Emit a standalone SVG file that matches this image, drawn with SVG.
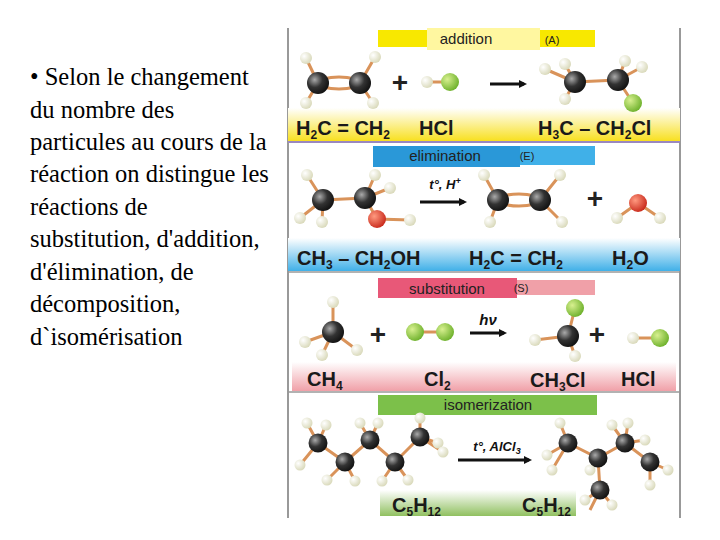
<svg xmlns="http://www.w3.org/2000/svg" width="720" height="540" viewBox="0 0 720 540">
<style>
.lt{font-family:"Liberation Serif","DejaVu Serif",serif;font-size:24.5px;fill:#000}
.lab{font-family:"Liberation Sans",sans-serif;font-size:15px;fill:#222;text-anchor:middle}
.f{font-family:"Liberation Sans",sans-serif;font-size:20px;font-weight:bold;fill:#1a1a1a}
.s{font-size:12px}
.b{stroke:#d9935a;stroke-width:3;fill:none}
.ar{stroke:#111;stroke-width:3}
.it{font-family:"Liberation Sans",sans-serif;font-size:13px;font-style:italic;font-weight:bold;fill:#111;text-anchor:middle}
.pl{font-family:"Liberation Sans",sans-serif;font-size:28px;font-weight:bold;fill:#222;text-anchor:middle}
</style>
<defs>
<radialGradient id="gc" cx="35%" cy="35%" r="70%"><stop offset="0" stop-color="#aaa"/><stop offset="0.5" stop-color="#333"/><stop offset="1" stop-color="#111"/></radialGradient>
<radialGradient id="gh" cx="35%" cy="35%" r="70%"><stop offset="0" stop-color="#fff"/><stop offset="1" stop-color="#d8d8b8"/></radialGradient>
<radialGradient id="gcl" cx="35%" cy="35%" r="70%"><stop offset="0" stop-color="#d8f090"/><stop offset="1" stop-color="#6cb02a"/></radialGradient>
<radialGradient id="go" cx="35%" cy="35%" r="70%"><stop offset="0" stop-color="#ff9a80"/><stop offset="1" stop-color="#c8281a"/></radialGradient>
<linearGradient id="by" x1="0" y1="0" x2="0" y2="1"><stop offset="0" stop-color="#fff"/><stop offset="1" stop-color="#f8e020"/></linearGradient>
<linearGradient id="bb" x1="0" y1="0" x2="0" y2="1"><stop offset="0" stop-color="#fff"/><stop offset="1" stop-color="#40b0e8"/></linearGradient>
<linearGradient id="bp" x1="0" y1="0" x2="0" y2="1"><stop offset="0" stop-color="#fff"/><stop offset="1" stop-color="#f0a0a8"/></linearGradient>
<linearGradient id="bg" x1="0" y1="0" x2="0" y2="1"><stop offset="0" stop-color="#fff"/><stop offset="1" stop-color="#90c060"/></linearGradient>
<marker id="ah" markerWidth="8" markerHeight="8" refX="5" refY="4" orient="auto" markerUnits="userSpaceOnUse"><path d="M0,0 L8,4 L0,8 Z" fill="#111"/></marker>
</defs>
<rect width="720" height="540" fill="#fff"/>
<g id="lefttext">
<text class="lt" x="30" y="85">•  Selon le changement</text>
<text class="lt" x="30" y="118">du nombre des</text>
<text class="lt" x="30" y="150">particules au cours de la</text>
<text class="lt" x="30" y="182">réaction on distingue les</text>
<text class="lt" x="30" y="215">réactions de</text>
<text class="lt" x="30" y="247">substitution, d'addition,</text>
<text class="lt" x="30" y="280">d'élimination, de</text>
<text class="lt" x="30" y="312">décomposition,</text>
<text class="lt" x="30" y="345">d`isomérisation</text>
</g>
<g id="panel">
<rect x="287" y="28" width="393" height="490" fill="#fff"/>
<line x1="288" y1="28" x2="288" y2="518" stroke="#999" stroke-width="2"/>
<line x1="680" y1="28" x2="680" y2="518" stroke="#999" stroke-width="2"/>
<rect x="288" y="108" width="392" height="33" fill="url(#by)"/>
<line x1="288" y1="142" x2="680" y2="142" stroke="#9a88c0" stroke-width="2"/>
<rect x="288" y="238" width="392" height="33" fill="url(#bb)"/>
<line x1="288" y1="272" x2="680" y2="272" stroke="#999" stroke-width="1.5"/>
<rect x="292" y="362" width="384" height="29" fill="url(#bp)"/>
<line x1="288" y1="392" x2="680" y2="392" stroke="#999" stroke-width="1.5"/>
<rect x="380" y="490" width="196" height="26" fill="url(#bg)"/>
</g>
<g id="addition">
<rect x="378" y="30" width="217" height="17" fill="#f8e800"/>
<rect x="427" y="28" width="113" height="22" fill="#fff7a0"/>
<text class="lab" x="466" y="44">addition</text>
<text class="lab" x="552" y="44" style="font-size:11px">(A)</text>
<g class="b"><ellipse cx="339" cy="83" rx="21" ry="6"/><path d="M318,83L306,58M318,83L306,103M360,83L375,57M360,83L373,103M427,82L450,82M575,82L618,80M575,82L565,64M575,82L545,69M575,82L565,99M618,80L625,61M618,80L642,67M618,80L633,103"/></g>
<g fill="url(#gh)"><circle cx="306" cy="58" r="6"/><circle cx="306" cy="103" r="6"/><circle cx="375" cy="57" r="6"/><circle cx="373" cy="103" r="6"/><circle cx="427" cy="82" r="6"/><circle cx="565" cy="64" r="6"/><circle cx="545" cy="69" r="6"/><circle cx="565" cy="99" r="6"/><circle cx="625" cy="61" r="6"/><circle cx="642" cy="67" r="6"/></g>
<g fill="url(#gc)"><circle cx="318" cy="83" r="11"/><circle cx="360" cy="83" r="11"/><circle cx="575" cy="82" r="11"/><circle cx="618" cy="80" r="11"/></g>
<g fill="url(#gcl)"><circle cx="450" cy="82" r="9"/><circle cx="633" cy="103" r="9"/></g>
<text class="pl" x="400" y="92">+</text>
<line class="ar" x1="490" y1="84" x2="524" y2="84" marker-end="url(#ah)"/>
<text class="f" x="296" y="135">H<tspan class="s" dy="4">2</tspan><tspan dy="-4">C = CH</tspan><tspan class="s" dy="4">2</tspan></text>
<text class="f" x="419" y="135">HCl</text>
<text class="f" x="538" y="135">H<tspan class="s" dy="4">3</tspan><tspan dy="-4">C – CH</tspan><tspan class="s" dy="4">2</tspan><tspan dy="-4">Cl</tspan></text>
</g>
<g id="elimination">
<rect x="373" y="146" width="222" height="19" fill="#40b0e8"/>
<rect x="373" y="146" width="147" height="21" fill="#2a98d8"/>
<text class="lab" x="445" y="161">elimination</text>
<text class="lab" x="527" y="160" style="font-size:11px">(E)</text>
<g class="b"><path d="M323,200L365,198M323,200L307,175M323,200L300,218M323,200L322,222M365,198L375,175M365,198L390,188M365,198L377,219L410,220M498,200L484,175M498,200L490,222M540,200L560,175M540,200L562,222M638,203L617,218M638,203L660,218"/><ellipse cx="519" cy="200" rx="21" ry="6"/></g>
<g fill="url(#gh)"><circle cx="307" cy="175" r="6"/><circle cx="300" cy="218" r="6"/><circle cx="322" cy="222" r="6"/><circle cx="375" cy="175" r="6"/><circle cx="390" cy="188" r="6"/><circle cx="410" cy="220" r="6"/><circle cx="484" cy="175" r="6"/><circle cx="560" cy="175" r="6"/><circle cx="490" cy="222" r="6"/><circle cx="562" cy="222" r="6"/><circle cx="617" cy="218" r="6"/><circle cx="660" cy="218" r="6"/></g>
<g fill="url(#gc)"><circle cx="323" cy="200" r="11"/><circle cx="365" cy="198" r="11"/><circle cx="498" cy="200" r="11"/><circle cx="540" cy="200" r="11"/></g>
<g fill="url(#go)"><circle cx="377" cy="219" r="9"/><circle cx="638" cy="203" r="9"/></g>
<text class="it" x="445" y="189">t°, H<tspan dy="-5" style="font-size:9px">+</tspan></text>
<line class="ar" x1="420" y1="202" x2="464" y2="202" marker-end="url(#ah)"/>
<text class="pl" x="595" y="208">+</text>
<text class="f" x="297" y="265">CH<tspan class="s" dy="4">3</tspan><tspan dy="-4"> – CH</tspan><tspan class="s" dy="4">2</tspan><tspan dy="-4">OH</tspan></text>
<text class="f" x="469" y="265">H<tspan class="s" dy="4">2</tspan><tspan dy="-4">C = CH</tspan><tspan class="s" dy="4">2</tspan></text>
<text class="f" x="612" y="265">H<tspan class="s" dy="4">2</tspan><tspan dy="-4">O</tspan></text>
</g>
<g id="substitution">
<rect x="378" y="280" width="217" height="15" fill="#f0a0a8"/>
<rect x="378" y="278" width="139" height="20" fill="#e85878"/>
<text class="lab" x="447" y="294">substitution</text>
<text class="lab" x="521" y="292" style="font-size:11px">(S)</text>
<g class="b"><path d="M333,332L333,302M333,332L305,342M333,332L322,355M333,332L357,350M415,332L445,332M568,336L575,308M568,336L535,340M568,336L575,356M633,338L660,338"/></g>
<g fill="url(#gh)"><circle cx="333" cy="302" r="6"/><circle cx="305" cy="342" r="6"/><circle cx="322" cy="355" r="6"/><circle cx="357" cy="350" r="6"/><circle cx="535" cy="340" r="6"/><circle cx="575" cy="356" r="6"/><circle cx="633" cy="338" r="6"/></g>
<g fill="url(#gc)"><circle cx="333" cy="332" r="11"/><circle cx="568" cy="336" r="11"/></g>
<g fill="url(#gcl)"><circle cx="415" cy="332" r="9"/><circle cx="445" cy="332" r="9"/><circle cx="575" cy="308" r="9"/><circle cx="660" cy="338" r="9"/></g>
<text class="pl" x="378" y="344">+</text>
<text class="pl" x="597" y="344">+</text>
<text class="it" x="488" y="325" style="font-size:15px">hν</text>
<line class="ar" x1="470" y1="333" x2="504" y2="333" marker-end="url(#ah)"/>
<text class="f" x="307" y="386">CH<tspan class="s" dy="4">4</tspan></text>
<text class="f" x="424" y="386">Cl<tspan class="s" dy="4">2</tspan></text>
<text class="f" x="530" y="387">CH<tspan class="s" dy="4">3</tspan><tspan dy="-4">Cl</tspan></text>
<text class="f" x="621" y="386">HCl</text>
</g>
<g id="isomerization">
<rect x="378" y="395" width="219" height="20" fill="#7cc04a"/>
<text class="lab" x="488" y="410">isomerization</text>
<g class="b"><path d="M318,443L345,462L370,440L395,462L420,437M318,443L307,423M318,443L300,465M318,443L326,425M345,462L327,480M345,462L355,481M370,440L360,423M370,440L378,423M395,462L382,481M395,462L408,480M420,437L420,418M420,437L438,443M420,437L443,452M568,443L598,458L625,443L650,462M598,458L600,490M568,443L560,423M568,443L547,455M568,443L552,470M598,458L590,470M625,443L612,425M625,443L628,423M650,462L668,470M650,462L650,485M600,490L585,500M600,490L612,505M600,490L590,510M625,443L645,440"/></g>
<g fill="url(#gh)"><circle cx="307" cy="423" r="5.5"/><circle cx="300" cy="465" r="5.5"/><circle cx="326" cy="425" r="5.5"/><circle cx="327" cy="480" r="5.5"/><circle cx="355" cy="481" r="5.5"/><circle cx="360" cy="423" r="5.5"/><circle cx="378" cy="423" r="5.5"/><circle cx="382" cy="481" r="5.5"/><circle cx="408" cy="480" r="5.5"/><circle cx="420" cy="418" r="5.5"/><circle cx="438" cy="443" r="5.5"/><circle cx="443" cy="452" r="5.5"/><circle cx="560" cy="423" r="5.5"/><circle cx="547" cy="455" r="5.5"/><circle cx="552" cy="470" r="5.5"/><circle cx="590" cy="470" r="5.5"/><circle cx="612" cy="425" r="5.5"/><circle cx="628" cy="423" r="5.5"/><circle cx="645" cy="440" r="5.5"/><circle cx="668" cy="470" r="5.5"/><circle cx="650" cy="485" r="5.5"/><circle cx="585" cy="500" r="5.5"/><circle cx="612" cy="505" r="5.5"/></g>
<g fill="url(#gc)"><circle cx="318" cy="443" r="9.5"/><circle cx="345" cy="462" r="9.5"/><circle cx="370" cy="440" r="9.5"/><circle cx="395" cy="462" r="9.5"/><circle cx="420" cy="437" r="9.5"/><circle cx="568" cy="443" r="9.5"/><circle cx="598" cy="458" r="9.5"/><circle cx="625" cy="443" r="9.5"/><circle cx="650" cy="462" r="9.5"/><circle cx="600" cy="490" r="9.5"/></g>
<text class="it" x="497" y="451">t°, AlCl<tspan dy="3" style="font-size:9px">3</tspan></text>
<line class="ar" x1="458" y1="460" x2="529" y2="460" marker-end="url(#ah)"/>
<text class="f" x="392" y="512">C<tspan class="s" dy="4">5</tspan><tspan dy="-4">H</tspan><tspan class="s" dy="4">12</tspan></text>
<text class="f" x="522" y="512">C<tspan class="s" dy="4">5</tspan><tspan dy="-4">H</tspan><tspan class="s" dy="4">12</tspan></text>
</g>
</svg>
